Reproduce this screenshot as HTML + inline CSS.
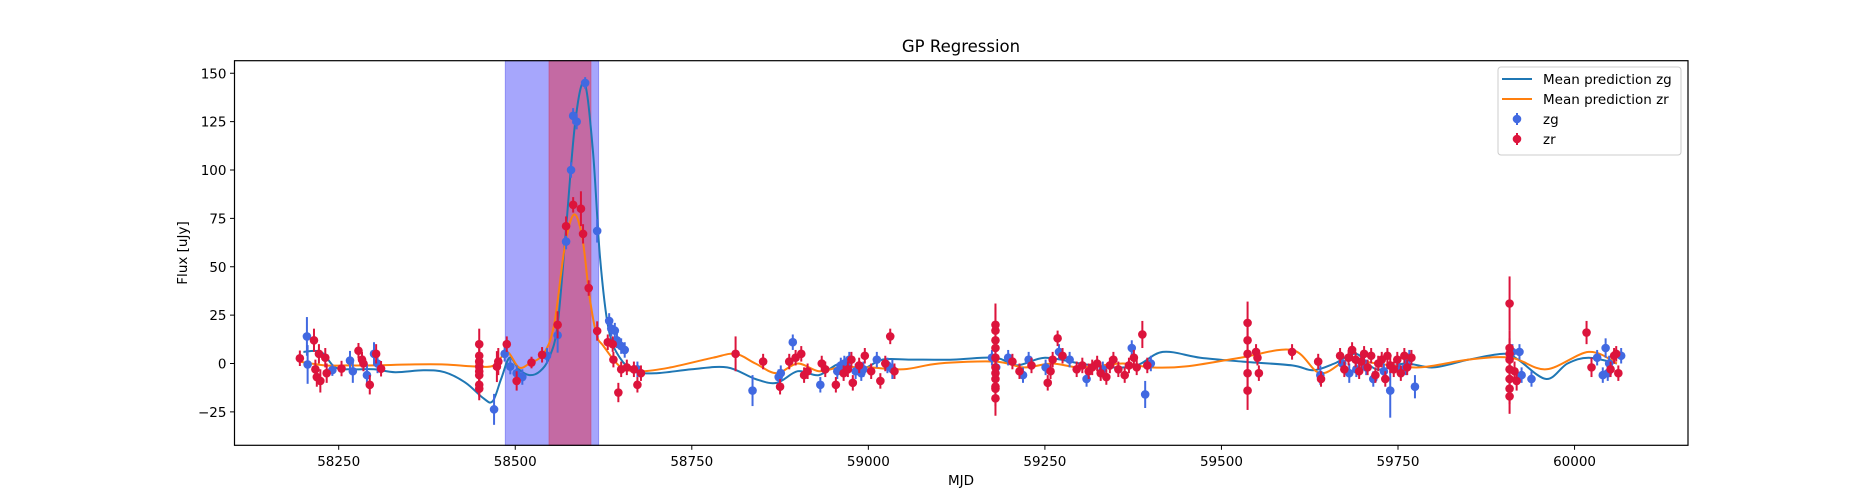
<!DOCTYPE html>
<html><head><meta charset="utf-8"><style>
html,body{margin:0;padding:0;background:#fff;}
svg{display:block;font-family:"DejaVu Sans","Liberation Sans",sans-serif;}
</style></head><body>
<svg id="chart" width="1875" height="500" viewBox="0 0 1875 500"></svg>
<script>
// ---- data ----
const xTicks = [58250, 58500, 58750, 59000, 59250, 59500, 59750, 60000];
const yTicks = [-25, 0, 25, 50, 75, 100, 125, 150];
const spanBlue = [58486, 58618];
const spanRed = [58548, 58607];
const zgMjd = [58205,58206,58241,58266,58270,58290,58300,58305,58470,58485,58493,58502,58510,58545,58560,58572,58579,58582,58587,58599,58616,58633,58636,58641,58644,58650,58655,58673,58836,58873,58876,58893,58932,58956,58961,58966,58973,58982,58990,58993,59012,59027,59034,59175,59181,59198,59219,59227,59251,59270,59285,59309,59332,59373,59392,59400,59640,59671,59681,59691,59705,59715,59730,59739,59752,59761,59766,59774,59912,59922,59925,59939,60032,60040,60044,60047,60049,60066];
const zgFlux = [14,-0.5,-3.4,1.5,-4,-6,5,0,-23.7,5,-1.6,-5,-7,4,14.6,63,100,128,125,145,68.5,22,18,17,12,9,7,-3,-14,-7,-5,11,-11,-4,-1,0,2,-4,-5,-3,2,-1,-3,3,-2,3,-6,2,-2,6,2,-8,-3,8,-16,0,-6,0,-5,-3,-2,-8,-4,-14,-3,-2,3,-12,6,6,-6,-8,3,-6,8,-5,0,4];
const zgErr = [10,10,3,5,6,6,6,5,8,4,4,4,4,4,9,4,4,4,4,3,6,4,4,4,4,4,4,4,8,4,4,4,4,4,4,4,4,4,4,4,4,4,5,4,4,4,4,4,4,4,4,4,4,4,7,4,5,4,5,4,4,4,4,14,4,4,4,6,4,4,4,4,4,4,5,4,4,4];
const zrMjd = [58195,58215,58217,58219,58222,58224,58231,58233,58254,58278,58283,58285,58294,58303,58310,58449,58449,58449,58449,58449,58449,58449,58449,58474,58476,58488,58502,58523,58538,58560,58572,58582,58593,58596,58604,58616,58631,58638,58639,58646,58650,58658,58668,58673,58678,58812,58851,58875,58888,58897,58905,58909,58914,58934,58939,58954,58965,58971,58976,58978,58987,58995,59004,59017,59024,59031,59037,59180,59180,59180,59180,59180,59180,59180,59180,59180,59180,59180,59204,59214,59231,59254,59258,59261,59268,59275,59295,59303,59312,59317,59324,59329,59337,59342,59347,59354,59363,59369,59376,59380,59388,59395,59537,59537,59537,59537,59537,59549,59551,59553,59600,59637,59641,59668,59674,59680,59685,59690,59695,59698,59702,59707,59712,59718,59722,59727,59732,59735,59739,59744,59749,59754,59759,59763,59769,59908,59908,59908,59908,59908,59908,59908,59908,59915,59918,60017,60024,60051,60056,60059,60062];
const zrFlux = [2.7,12,-3,-7,5,-9,3,-5,-2.6,6.6,2,0,-11,5,-2.7,10,4,1,-1.6,-4,-6,-11,-13,-1.6,1,10,-9,0.5,4.5,20,71,82,80,67,39,16.8,11,10,2,-15,-3,-2,-3,-11,-5,5,1,-12,1,3,5,-6,-4,0,-3,-11,-5,-3,2,-10,-1,4,-4,-9,0,14,-4,17,20,12,8,3,-2,-5,-8,-12,-18,-13,1,-4,-1,-10,-4,2,13,4,-3,-1,-4,-2,0,-5,-7,-1,2,-3,-6,-1,3,-2,15,-1,21,12,5,-5,-14,6,3,-5,6,1,-8,4,-3,3,7,2,-4,1,5,-2,4,-6,0,2,-8,4,-1,-3,2,-5,4,-2,3,31,8,5,2,-3,-8,-13,-17,-4,-9,16,-2,-3,4,5,-5];
const zrErr = [4,6,5,5,5,6,5,5,4,4,4,4,5,5,4,8,5,5,5,5,5,6,6,8,7,4,5,3,4,7,5,4,9,5,4,5,4,4,4,5,4,4,4,4,4,9,4,4,4,4,4,4,4,4,4,4,4,4,4,4,4,4,4,4,4,4,4,14,9,7,6,6,7,8,9,10,9,9,4,4,4,4,4,4,4,4,4,4,4,4,4,4,4,4,4,4,4,4,4,4,7,4,11,10,8,8,10,4,4,4,4,4,4,4,4,4,4,4,4,4,4,4,4,4,4,4,4,4,4,4,4,4,4,4,4,14,9,8,7,6,7,8,9,5,5,6,5,4,4,4,4];
const gpgMjd = [58200,58225,58245,58270,58300,58330,58370,58400,58430,58455,58468,58480,58492,58505,58520,58535,58548,58560,58572,58585,58598,58610,58620,58632,58648,58670,58700,58750,58800,58840,58870,58900,58930,58960,58990,59020,59060,59120,59180,59210,59250,59300,59340,59380,59417,59470,59530,59600,59630,59660,59690,59720,59760,59800,59850,59900,59920,59960,59990,60020,60060];
const gpgFlux = [6,6,-2,-3,-3,-4.5,-3.5,-4.5,-10,-18,-19.5,-8,3,-3,-6,-4,3,20,70,125,145,110,55,18,3,-4,-5,-3,-2,-8,-10,-4,-6,0,-3,2,2,2,3,-1,3,0,-2,-1,6,3,1,-1,-3.5,0,5,-3,0,-2,2,5,2,-8,0,3,0];
const gprMjd = [58195,58230,58260,58300,58350,58400,58440,58470,58488,58505,58520,58540,58555,58570,58583,58595,58605,58615,58625,58650,58680,58720,58780,58812,58840,58870,58900,58930,58960,59000,59050,59100,59180,59220,59260,59300,59360,59400,59450,59527,59600,59640,59680,59720,59780,59850,59910,59960,60020,60060];
const gprFlux = [1,-1,-1,-1,-0.5,-0.5,-1.5,-1,6,-2,0,5,20,60,77,65,35,15,9,-2,-4,-2,3,5,0,-5,0,-4,-2,-2,-3,0,1,-2,0,-2,0,-2,-1.5,3,7,-5,2,0,-2,2,3,-3,6,0];

// ---- axes ----
const L=234.5, R=1688, T=60.7, B=445.3;
const X = v => 338.7 + (v-58250)*0.7062;
const Y = f => 363.5 - f*1.935;
const svg = document.getElementById('chart');
const NS='http://www.w3.org/2000/svg';
function mk(tag, attrs, parent){const e=document.createElementNS(NS,tag);for(const k in attrs)e.setAttribute(k,attrs[k]);(parent||svg).appendChild(e);return e;}

const bs = mk('rect',{x:X(spanBlue[0]),y:T,width:X(spanBlue[1])-X(spanBlue[0]),height:B-T,fill:'#a6a6fc',stroke:'#8c8cf5','stroke-width':1});


const rs = mk('rect',{x:X(spanRed[0]),y:T,width:X(spanRed[1])-X(spanRed[0]),height:B-T,fill:'#c46aa3',stroke:'#c45a90','stroke-width':1});



function smoothPath(xs, ys){
  const p = xs.map((x,i)=>[X(x),Y(ys[i])]);
  let d='M'+p[0][0].toFixed(1)+','+p[0][1].toFixed(1);
  for(let i=0;i<p.length-1;i++){
    const p0=p[Math.max(0,i-1)],p1=p[i],p2=p[i+1],p3=p[Math.min(p.length-1,i+2)];
    const c1=[p1[0]+(p2[0]-p0[0])/6,p1[1]+(p2[1]-p0[1])/6];
    const c2=[p2[0]-(p3[0]-p1[0])/6,p2[1]-(p3[1]-p1[1])/6];
    d+=' C'+c1.map(v=>v.toFixed(1)).join(',')+' '+c2.map(v=>v.toFixed(1)).join(',')+' '+p2[0].toFixed(1)+','+p2[1].toFixed(1);
  }
  return d;
}
const lg = mk('path',{d:smoothPath(gpgMjd,gpgFlux),fill:'none',stroke:'#1f77b4','stroke-width':2});


const lr = mk('path',{d:smoothPath(gprMjd,gprFlux),fill:'none',stroke:'#ff7f0e','stroke-width':2});



function drawPts(ms, fs, es, color, name){
  const g = mk('g',{});
  
  
  ms.forEach((m,i)=>{
    const x=X(m);
    const bar = mk('line',{x1:x,x2:x,y1:Y(fs[i]-es[i]),y2:Y(fs[i]+es[i]),stroke:color,'stroke-width':2},g);
    
    
    const c = mk('circle',{cx:x,cy:Y(fs[i]),r:4.3,fill:color},g);
    
    
  });
}
drawPts(zgMjd,zgFlux,zgErr,'#4169e1','zg');
drawPts(zrMjd,zrFlux,zrErr,'#dc143c','zr');

// frame
const fr = mk('rect',{x:L,y:T,width:R-L,height:B-T,fill:'none',stroke:'#000','stroke-width':1.2});



xTicks.forEach(t=>{
  const x=X(t);
  mk('line',{x1:x,x2:x,y1:B,y2:B+4.5,stroke:'#000','stroke-width':1});
  const tx = mk('text',{x:x,y:466,'font-size':13.5,'text-anchor':'middle',fill:'#000'});
  tx.textContent=t;
  
  
});
yTicks.forEach(t=>{
  const y=Y(t);
  mk('line',{x1:L,x2:L-4.5,y1:y,y2:y,stroke:'#000','stroke-width':1});
  const tx = mk('text',{x:L-8,y:y+5,'font-size':13.5,'text-anchor':'end',fill:'#000'});
  tx.textContent=(t<0?'\u2212'+(-t):t);
  
  
});
</script>
<script>
(function(){
const svg=document.getElementById('chart');const NS='http://www.w3.org/2000/svg';
function mk(tag, attrs, parent){const e=document.createElementNS(NS,tag);for(const k in attrs)e.setAttribute(k,attrs[k]);(parent||svg).appendChild(e);return e;}
const title=mk('text',{x:961,y:52,'font-size':16.5,'text-anchor':'middle',fill:'#000'});
title.textContent='GP Regression';


const xl=mk('text',{x:961,y:485,'font-size':13.5,'text-anchor':'middle',fill:'#000'});
xl.textContent='MJD';


const yl=mk('text',{x:0,y:0,'font-size':13.5,'text-anchor':'middle',fill:'#000',transform:'translate(187,253) rotate(-90)'});
yl.textContent='Flux [uJy]';


const lg=mk('g',{});


mk('rect',{x:1498,y:67,width:183,height:88,rx:3,fill:'#fff','fill-opacity':0.8,stroke:'#ccc','stroke-width':1},lg);
const items=[['line','#1f77b4','Mean prediction zg'],['line','#ff7f0e','Mean prediction zr'],['dot','#4169e1','zg'],['dot','#dc143c','zr']];
items.forEach((it,i)=>{
  const y=79+i*20;
  const g=mk('g',{},lg);
  
  
  if(it[0]==='line'){mk('line',{x1:1502,x2:1532,y1:y,y2:y,stroke:it[1],'stroke-width':2},g);}
  else{mk('line',{x1:1517,x2:1517,y1:y-6,y2:y+6,stroke:it[1],'stroke-width':2},g);mk('circle',{cx:1517,cy:y,r:4.3,fill:it[1]},g);}
  const t=mk('text',{x:1543,y:y+5,'font-size':13.5,fill:'#000'},g);
  t.textContent=it[2];
});
})();
</script>
</body></html>
